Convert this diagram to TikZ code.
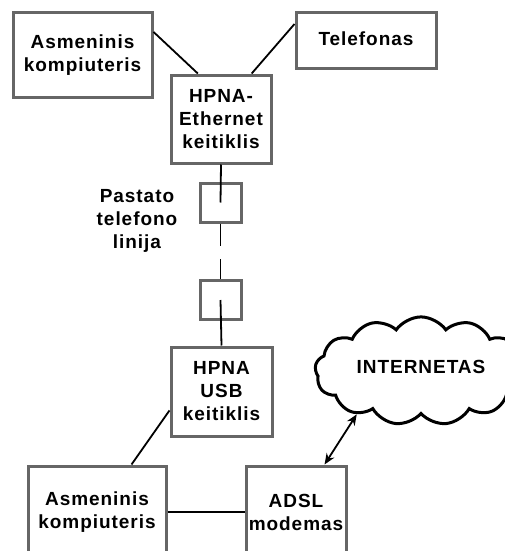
\documentclass[tikz,border=0pt]{standalone}
\usepackage{fontspec}
\newfontfamily\boxfont[LetterSpace=5]{Liberation Sans}
\usetikzlibrary{shapes.symbols,arrows.meta}

\begin{document}
\begin{tikzpicture}[x=1pt,y=-1pt,
    box/.style={draw=gray!80!black,line width=3pt,rectangle,inner sep=2pt,align=center},
    jack/.style={draw=gray!80!black,line width=3pt,rectangle,minimum width=41,minimum height=39},
    wire/.style={line width=1.8pt},
    every node/.style={font=\boxfont\bfseries\fontsize{19}{23}\selectfont}]
    \clip (0,0) rectangle (505,551);
    \fill[white] (0,0) rectangle (505,551);
    \node[box,minimum width=139,minimum height=84] (pctop) at (82.5,55) {Asmeninis\\kompiuteris};
    \node[box,minimum width=140,minimum height=55] (phone) at (366,40.5) {\raisebox{4pt}{Telefonas}};
    \node[box,minimum width=100,minimum height=88] (hpnaeth) at (221,119) {HPNA-\\Ethernet\\keitiklis};
    \node[jack] (jack1) at (220.5,202.5) {};
    \node[jack] (jack2) at (220.5,300) {};
    \node[align=center] (line) at (137,221) {Pastato\\telefono\\linija};
    \node[box,minimum width=101,minimum height=89] (hpnausb) at (221.5,391.5) {HPNA\\USB\\keitiklis};
    \node[box,minimum width=138,minimum height=92] (pcbot) at (97,512) {Asmeninis\\kompiuteris};
    \node[box,minimum width=100,minimum height=92] (adsl) at (296,512) {ADSL\\modemas};
    \node[cloud,draw,line width=3pt,cloud puffs=13,cloud puff arc=110,aspect=2.2,
      minimum width=212,minimum height=98] (net) at (421,371) {\raisebox{9pt}{INTERNETAS}};
    \coordinate (gap1) at (220.5,246);
    \coordinate (gap2) at (220.5,259);
    \draw[wire] (pctop.18)--(hpnaeth.117);
    \draw[wire] (phone.167)--(hpnaeth.56);
    \draw[wire] (hpnaeth.south)--(jack1.center);
    \draw[wire] (jack1.south)--(gap1);
    \draw[wire] (gap2)--(jack2.north);
    \draw[wire] (jack2.center)--(hpnausb.north);
    \draw[wire] (hpnausb.200)--(pcbot.54);
    \draw[wire] (pcbot)--(adsl);
    \draw[wire,{Stealth[length=11pt,width=9pt]}-{Stealth[length=11pt,width=9pt]}] (adsl.59)--(net.214);
\end{tikzpicture}
\end{document}
